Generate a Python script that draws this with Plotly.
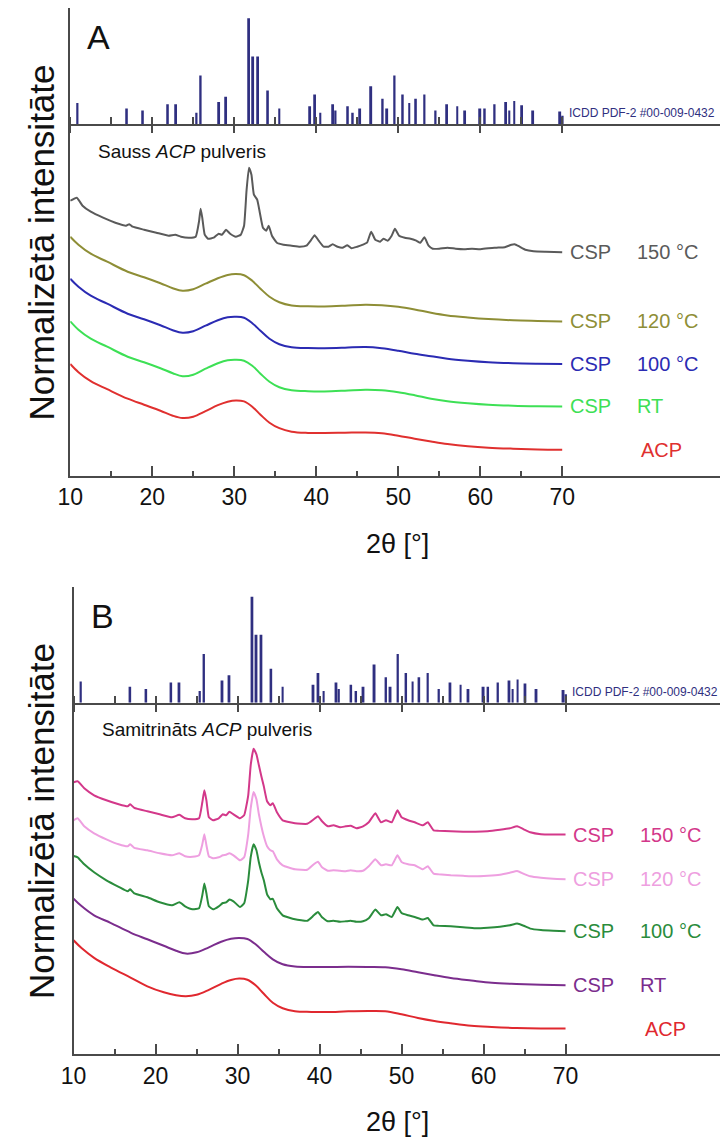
import plotly.graph_objects as go

# ---------------- data ----------------
# ICDD PDF-2 #00-009-0432 (hydroxyapatite) reference lines
ref_2theta = [10.88, 16.9, 18.85, 21.9, 22.9, 25.4, 25.9, 28.15, 29.0, 31.8,
              32.3, 32.9, 34.1, 35.5, 39.25, 39.85, 40.5, 42.05, 42.35, 43.85,
              44.45, 45.35, 46.7, 48.1, 48.65, 49.55, 50.55, 51.35, 52.15, 53.2,
              54.55, 55.95, 57.2, 58.15, 60.0, 60.55, 61.75, 63.15, 63.55, 64.15,
              65.1, 66.45, 69.75, 70.05]
ref_rel_int = [20, 15, 13, 19, 19, 11, 46, 21, 26, 100,
               64, 64, 32, 15, 17, 28, 11, 19, 13, 17,
               11, 15, 36, 24, 15, 46, 28, 20, 24, 28,
               13, 19, 17, 13, 15, 15, 19, 21, 13, 22,
               18, 13, 12, 8]

# amorphous-type patterns (shared 2theta grid)
two_theta_amorph = [10, 11, 12.5, 14.5, 17, 19, 21, 22.5, 23.7, 25,
                    26.5, 28, 29.2, 30.2, 31.2, 32.2, 33.2, 34.3, 35.5, 37,
                    39, 41, 43.5, 46, 48, 50, 52, 54, 56, 58.5,
                    61, 64, 67, 70]

# Panel A (dry ACP powder)
a_csp150_2theta = [10.0, 10.8, 11.5, 12.5, 14, 15.5, 16.8, 17.2, 17.6, 19,
                   20.5, 22, 22.8, 23.5, 24.5, 25.3, 25.7, 25.9, 26.1, 26.4,
                   26.8, 27.5, 28.1, 28.5, 29.0, 29.5, 30.2, 30.8, 31.2, 31.5,
                   31.8, 32.1, 32.4, 32.8, 33.1, 33.5, 33.9, 34.2, 34.6, 35.2,
                   36, 37, 38, 38.8, 39.4, 39.8, 40.3, 40.9, 41.5, 42.0,
                   42.6, 43.2, 43.8, 44.3, 45, 45.7, 46.2, 46.7, 47.2, 47.8,
                   48.2, 48.7, 49.2, 49.6, 50.1, 50.8, 51.5, 52.2, 52.7, 53.2,
                   53.7, 54.2, 55, 56, 57, 58, 59, 60, 61, 62,
                   63, 63.8, 64.2, 64.8, 65.5, 66.5, 68, 70]
a_csp150 = [275, 278, 270, 264, 258, 253, 250, 251.5, 249, 246,
            243, 240, 241, 239, 238, 239, 254, 267, 258, 241,
            237, 238, 242, 241, 246, 242, 239, 241, 250, 285,
            308, 301, 281, 276, 264, 248, 245, 250, 240, 233,
            231, 230, 229, 230, 236, 240.5, 235, 229, 229, 231.5,
            229, 228, 230.5, 227.5, 229, 231, 233, 244, 236, 234,
            237, 235, 240, 247, 240, 238, 237, 235, 233, 238.5,
            230, 227, 227, 228, 227, 226.5, 227, 226.5, 227.5, 228,
            228.5, 231, 231.5, 229, 226, 224.5, 224, 223.5]
a_csp120 = [239, 231, 222, 214, 204, 198.5, 192.5, 187.5, 185, 186.5,
            192, 197.5, 200.8, 201.7, 200.5, 195, 187, 179, 173.5, 170.3,
            169.4, 169.3, 170, 171, 170.5, 169, 166.3, 163, 160.3, 158.2,
            156.6, 155.4, 154.8, 154.3]
a_csp100 = [197, 189, 180, 172, 162, 156.5, 150.5, 145.5, 143, 144.5,
            150, 155.5, 158.5, 159, 158, 152.5, 145, 137, 131.5, 128.5,
            127.6, 127.5, 128, 128.7, 127.5, 125, 122, 119.5, 117, 115,
            113.5, 112.5, 112, 111.7]
a_csprt = [154.3, 146, 137, 129, 119, 113.5, 107.5, 102.5, 99.5, 101,
           107, 112.5, 115.5, 116, 115, 110, 102, 94, 88.5, 85.5,
           84.5, 84.3, 85, 86, 85.5, 83.5, 80.5, 77, 74.5, 72.5,
           71, 70, 69.5, 69.3]
a_acp = [111.7, 103.5, 94.5, 86.5, 77, 71, 65, 60, 57.7, 59,
         64.5, 70.5, 74, 75.3, 74.3, 69, 61, 53, 47.5, 44,
         42.8, 42.7, 43, 43.3, 42.5, 40, 37, 34.3, 31.8, 29.5,
         28, 27, 26.3, 26]

# Panel B (moistened ACP powder)
b_cryst_2theta = [10, 10.5, 11.3, 12.5, 14, 15.5, 16.6, 16.9, 17.4, 19,
                  20.5, 22, 22.9, 23.6, 24.5, 25.3, 25.7, 25.95, 26.2, 26.5,
                  27, 27.7, 28.2, 28.6, 29.0, 29.5, 30.3, 30.8, 31.3, 31.6,
                  31.95, 32.3, 32.6, 32.9, 33.2, 33.6, 34.0, 34.3, 34.8, 35.5,
                  37, 38.5, 39.3, 39.8, 40.3, 41, 41.7, 42.5, 43.2, 43.8,
                  44.5, 45.3, 46.0, 46.8, 47.5, 48.1, 48.8, 49.5, 50.0, 50.8,
                  51.6, 52.6, 53.2, 53.9, 54.5, 56, 57.5, 59, 60.5, 62,
                  63.2, 64.1, 64.9, 65.7, 67, 68.5, 70]
b_csp150 = [272, 273, 266, 259, 254, 250, 248, 250, 246.5, 243,
            240, 237, 239.5, 236, 235, 236, 252, 264, 254, 237,
            234, 236, 240, 239, 242.5, 240, 236, 239, 259, 289,
            305.5, 300, 289, 278, 268, 253, 249, 251, 242, 234,
            231, 230.5, 235, 238, 233, 228, 229, 227, 228, 228.5,
            226, 228, 232, 241, 232, 234, 232, 244, 237, 234,
            232, 229, 232, 224, 223.5, 223, 222.5, 222.5, 223, 224.5,
            226, 228, 225, 222, 220, 219.7, 219.7]
b_csp120 = [234, 236, 228, 221, 215, 210, 208, 210, 206.5, 204,
            201, 199, 201, 198, 197.5, 199, 210, 220, 209, 198,
            196, 197, 199, 199.5, 201, 199, 194, 197, 220, 246,
            262.3, 255, 240, 228, 218, 208, 204, 203, 195, 189,
            185, 184.5, 190, 192.5, 187, 183.5, 184, 183.5, 183, 184,
            183, 183.5, 188, 195, 189, 190, 189, 199, 192.3, 190,
            189, 185, 188, 180.7, 180, 179, 178.5, 178, 178.5, 179.5,
            181.5, 183.3, 180.5, 178, 176.5, 175.5, 175]
b_csp100 = [198.3, 197, 190, 182, 174, 167.5, 163, 165, 161, 157,
            152, 149, 152, 148, 145, 146, 159, 170.7, 161, 148,
            145, 148, 151.3, 152, 154.7, 153, 147.3, 151, 174, 197,
            210, 204, 192, 182, 174, 160, 155, 155.5, 146, 139,
            135, 133.5, 139, 142.3, 137, 133, 133.5, 132.5, 133, 133.5,
            132.5, 133, 136, 144.7, 139, 140, 137.3, 147.3, 141.3, 139,
            137.3, 134.7, 136.3, 129, 128.5, 128, 127, 126, 126.5, 127.5,
            129, 130.7, 128.5, 125.7, 124.3, 123.5, 123]
b_csprt = [155.7, 148, 139, 131.5, 121.5, 115, 108.5, 103.5, 100.7, 102,
           107, 112.5, 115.5, 116.3, 115.3, 110, 102.5, 95, 90, 87.8,
           87.3, 87.3, 87.5, 87.3, 87, 85, 82, 79, 76.3, 73.8,
           71.5, 70.3, 69.5, 69]
b_acp = [114, 106, 96.5, 87, 76.5, 68, 62, 59, 58, 59.5,
         64.5, 70.5, 74.3, 75.7, 74.5, 69, 60.5, 51.5, 46, 43,
         42.4, 42.3, 43, 43.3, 43, 40, 36.3, 33.3, 31, 28.5,
         27.3, 26.3, 25.8, 25.7]

major_ticks = [10, 20, 30, 40, 50, 60, 70]
minor_ticks = [15, 25, 35, 45, 55, 65]

# ---------------- styling ----------------
FONT = "Liberation Sans, Arial, Helvetica, sans-serif"
AX = "#4a4a4a"
STICK = "#2f2f80"

fig = go.Figure()

panels = [
    dict(cx="x", cy="y", sx="x2", sy="y2", tx="x3",
         x0=58.3, bottom=475.7, base=124.3, top=8.3,
         title="Sauss <i>ACP</i> pulveris", letter="A",
         curves=[
             (a_csp150_2theta, a_csp150, "#5a5a5a", "CSP", "150 °C", 0.4),
             (two_theta_amorph, a_csp120, "#8e8e36", "CSP", "120 °C", 1.0),
             (two_theta_amorph, a_csp100, "#2b2bb3", "CSP", "100 °C", 1.0),
             (two_theta_amorph, a_csprt, "#3de055", "CSP", "RT", 1.0),
             (two_theta_amorph, a_acp, "#e0302f", None, "ACP", 1.0),
         ]),
    dict(cx="x4", cy="y4", sx="x5", sy="y5", tx="x6",
         x0=61.7, bottom=1054.3, base=702.7, top=586.7,
         title="Samitrināts <i>ACP</i> pulveris", letter="B",
         curves=[
             (b_cryst_2theta, b_csp150, "#d3388a", "CSP", "150 °C", 0.4),
             (b_cryst_2theta, b_csp120, "#ee9fe0", "CSP", "120 °C", 0.4),
             (b_cryst_2theta, b_csp100, "#2a8c3c", "CSP", "100 °C", 0.4),
             (two_theta_amorph, b_csprt, "#7b2d8d", "CSP", "RT", 1.0),
             (two_theta_amorph, b_acp, "#e0282f", None, "ACP", 1.0),
         ]),
]

H, W = 1139, 720
PXDEG = 8.35
annotations = []
layout_axes = {}


def axname(a):
    return "xaxis" + a[1:] if a.startswith("x") else "yaxis" + a[1:]


for p in panels:
    xmax = 10 + (W - p["x0"]) / PXDEG
    xdom = [p["x0"] / W, 1.0]
    cdom = [1 - p["bottom"] / H, 1 - p["base"] / H]
    sdom = [1 - p["base"] / H, 1 - p["top"] / H]
    crange = p["bottom"] - p["base"]
    srange = 100 * (p["base"] - p["top"]) / 106.0

    # curve axes
    layout_axes[axname(p["cx"])] = dict(
        domain=xdom, range=[10, xmax], anchor=p["cy"], showline=True, linecolor=AX,
        linewidth=2, ticks="inside", tickmode="array", tickvals=major_ticks,
        ticktext=[str(v) for v in major_ticks], ticklen=10, tickwidth=1.5, tickcolor=AX,
        minor=dict(tickmode="array", tickvals=minor_ticks, ticks="inside", ticklen=5,
                   tickwidth=1.5, tickcolor=AX),
        tickfont=dict(family=FONT, size=23, color="#111"), showgrid=False, zeroline=False)
    layout_axes[axname(p["cy"])] = dict(
        domain=cdom, range=[0, crange], anchor=p["cx"], showline=True, linecolor=AX,
        linewidth=2, ticks="", showticklabels=False, showgrid=False, zeroline=False)
    # stick axes
    layout_axes[axname(p["sx"])] = dict(
        domain=xdom, range=[10, xmax], anchor=p["sy"], showline=True, linecolor=AX,
        linewidth=2, ticks="outside", tickmode="array", tickvals=major_ticks, ticklen=7,
        tickwidth=1.5, tickcolor=AX, showticklabels=False,
        minor=dict(tickmode="array", tickvals=[v + 0.02 for v in major_ticks] + minor_ticks,
                   ticks="inside", ticklen=7, tickwidth=1.5, tickcolor=AX),
        showgrid=False, zeroline=False)
    layout_axes[axname(p["sy"])] = dict(
        domain=sdom, range=[0, srange], anchor=p["sx"], showline=True, linecolor=AX,
        linewidth=2, ticks="", showticklabels=False, showgrid=False, zeroline=False)
    layout_axes[axname(p["tx"])] = dict(
        overlaying=p["sx"], anchor=p["sy"], side="top", range=[10, xmax], showline=True,
        linecolor=AX, linewidth=2, ticks="inside", tickmode="array", tickvals=major_ticks,
        ticklen=7, tickwidth=1.5, tickcolor=AX, showticklabels=False,
        minor=dict(tickmode="array", tickvals=minor_ticks, ticks="inside", ticklen=5,
                   tickwidth=1.5, tickcolor=AX),
        showgrid=False, zeroline=False)

    # reference sticks
    fig.add_trace(go.Bar(x=ref_2theta, y=ref_rel_int, width=0.24,
                         marker=dict(color=STICK, line_width=0),
                         xaxis=p["sx"], yaxis=p["sy"], hoverinfo="skip"))
    annotations.append(dict(text="ICDD PDF-2 #00-009-0432", xref=p["sx"], yref=p["sy"],
                            x=70.6, y=10.4, xanchor="left", yanchor="middle",
                            showarrow=False, font=dict(family=FONT, size=12, color=STICK)))

    # XRD curves
    for xs, ys, col, lab1, lab2, smooth in p["curves"]:
        line = dict(color=col, width=2, shape="spline", smoothing=smooth)
        fig.add_trace(go.Scatter(x=xs, y=ys, mode="lines", line=line,
                                 xaxis=p["cx"], yaxis=p["cy"], hoverinfo="skip"))
        lab_font = dict(family=FONT, size=20, color=col)
        if lab1:
            annotations.append(dict(text=lab1, xref=p["cx"], yref=p["cy"], x=70.7,
                                    y=ys[-1], xanchor="left", yanchor="middle",
                                    showarrow=False, font=lab_font))
            annotations.append(dict(text=lab2, xref=p["cx"], yref=p["cy"], x=78.85,
                                    y=ys[-1], xanchor="left", yanchor="middle",
                                    showarrow=False, font=lab_font))
        else:
            annotations.append(dict(text=lab2, xref=p["cx"], yref=p["cy"], x=79.4,
                                    y=ys[-1], xanchor="left", yanchor="middle",
                                    showarrow=False, font=lab_font))

    # sample title inside panel
    annotations.append(dict(text=p["title"], xref=p["cx"], yref=p["cy"], x=13.2,
                            y=crange - 27, xanchor="left", yanchor="middle",
                            showarrow=False, font=dict(family=FONT, size=19, color="#111")))
    # panel letter
    annotations.append(dict(text=p["letter"], xref="paper", yref="paper",
                            x=(p["x0"] + 29) / W, y=1 - (p["top"] + 29) / H,
                            xanchor="center", yanchor="middle", showarrow=False,
                            font=dict(family=FONT, size=34, color="#111")))
    # axis titles
    annotations.append(dict(text="Normalizētā intensitāte", xref="paper", yref="paper",
                            x=29 / W, y=1 - (p["top"] + p["bottom"]) / 2 / H, textangle=-90,
                            xanchor="center", yanchor="middle", showarrow=False,
                            font=dict(family=FONT, size=35, color="#111")))
    annotations.append(dict(text="2θ [°]", xref="paper", yref="paper",
                            x=392 / W, y=1 - (p["bottom"] + 68) / H,
                            xanchor="center", yanchor="middle", showarrow=False,
                            font=dict(family=FONT, size=27, color="#111")))

fig.update_layout(
    width=W, height=H, margin=dict(l=0, r=0, t=0, b=0),
    paper_bgcolor="white", plot_bgcolor="white", showlegend=False,
    barmode="overlay", annotations=annotations, **layout_axes)

fig.write_html("out.html")
